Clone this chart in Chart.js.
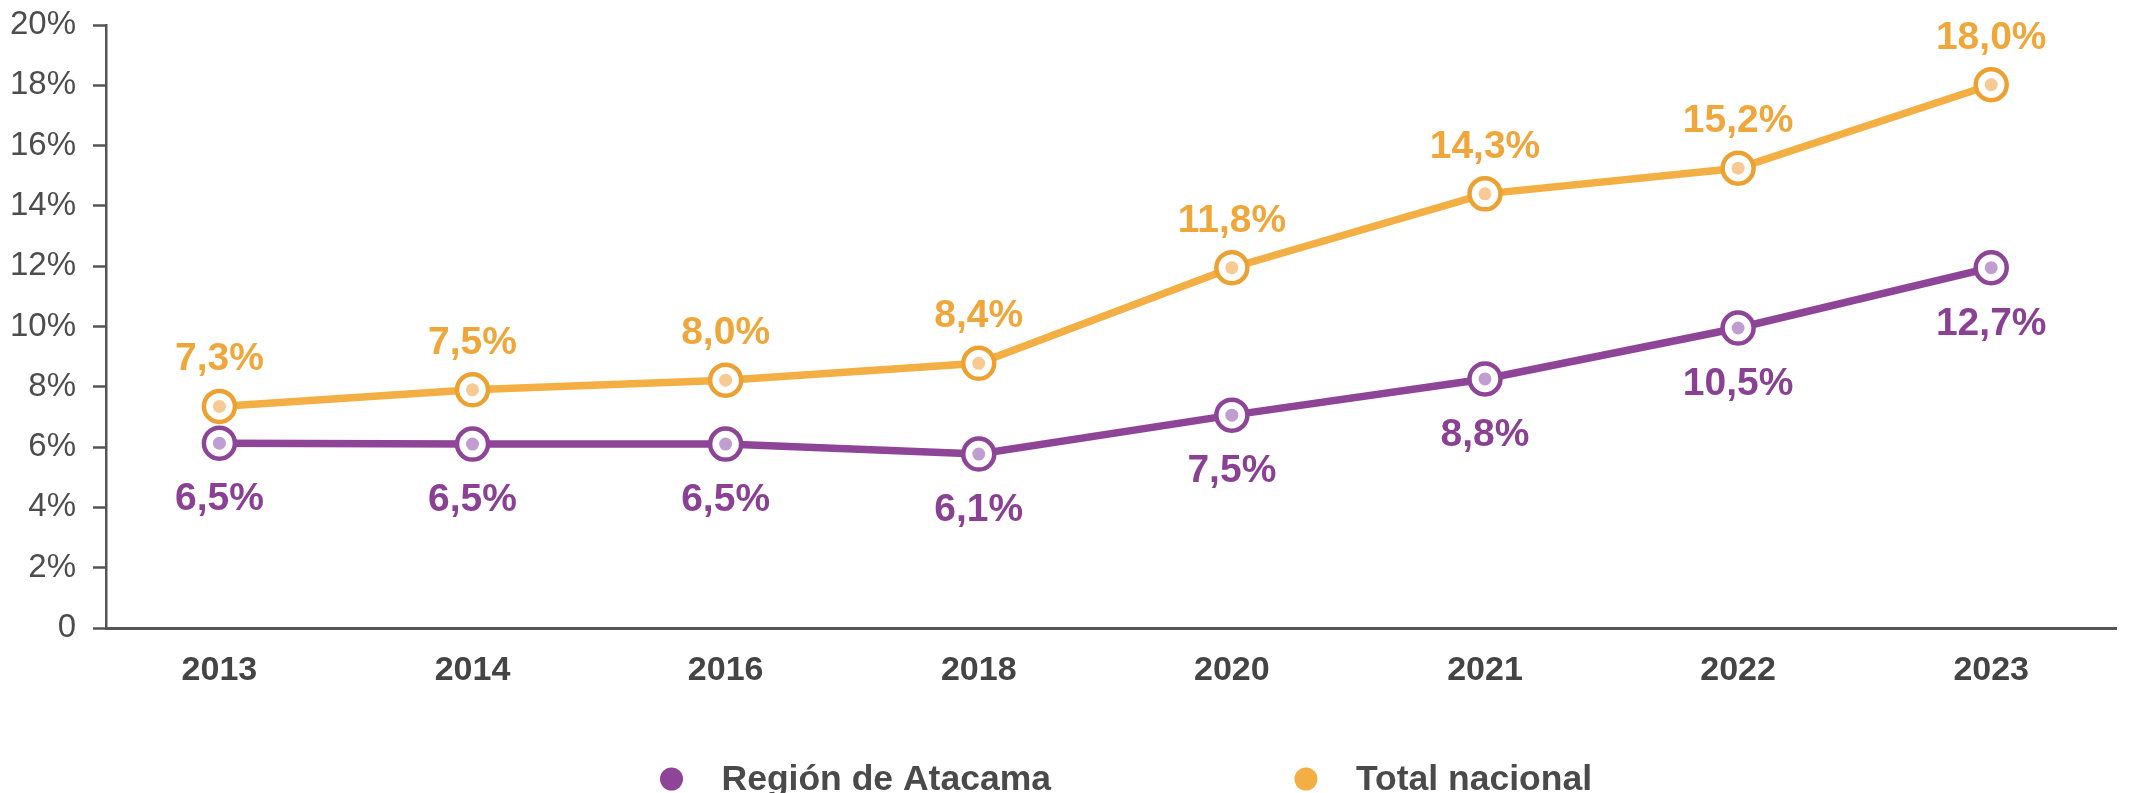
<!DOCTYPE html>
<html>
<head>
<meta charset="utf-8">
<script src="https://cdn.jsdelivr.net/npm/chart.js@4.4.1/dist/chart.umd.min.js"></script>
<style>
  html, body { margin: 0; padding: 0; background: #fff; }
</style>
</head>
<body>
<canvas id="chart" width="2136" height="793"></canvas>
<script>
// ─── Data ───
const years = ['2013', '2014', '2016', '2018', '2020', '2021', '2022', '2023'];
const atacama = [6.13, 6.1, 6.1, 5.77, 7.06, 8.26, 9.95, 11.95];
const nacional = [7.35, 7.9, 8.22, 8.78, 11.95, 14.4, 15.25, 18.02];
const atacamaLabels = ['6,5%', '6,5%', '6,5%', '6,1%', '7,5%', '8,8%', '10,5%', '12,7%'];
const nacionalLabels = ['7,3%', '7,5%', '8,0%', '8,4%', '11,8%', '14,3%', '15,2%', '18,0%'];
const yTicks = [0, 2, 4, 6, 8, 10, 12, 14, 16, 18, 20];
const seriesNames = ['Región de Atacama', 'Total nacional'];

// ─── Colours ───
const PURPLE = '#8E4598';
const PURPLE_TEXT = '#8A4193';
const PURPLE_DOT = '#C09FD0';
const ORANGE = '#F3AF43';
const ORANGE_TEXT = '#EFA63A';
const ORANGE_BORDER = '#EBA232';
const ORANGE_DOT = '#F8CA93';
const AXIS = '#555555';
const FONT = "'Liberation Sans', Arial, sans-serif";

const toPoints = arr => arr.map((v, i) => ({ x: i, y: v }));

/**
 * Value labels above / below each point.
 */
const valueLabels = {
    id: 'valueLabels',
    afterDatasetsDraw(chart) {
        const { ctx } = chart;
        chart.data.datasets.forEach((ds, i) => {
            if (!ds.valueLabels) return;
            const meta = chart.getDatasetMeta(i);
            ctx.save();
            ctx.font = `bold 39px ${FONT}`;
            ctx.fillStyle = ds.labelColor;
            ctx.textAlign = 'center';
            meta.data.forEach((pt, j) => {
                if (ds.labelSide === 'above') {
                    ctx.textBaseline = 'alphabetic';
                    ctx.fillText(ds.valueLabels[j], pt.x, pt.y - 36);
                } else {
                    ctx.textBaseline = 'top';
                    ctx.fillText(ds.valueLabels[j], pt.x, pt.y + 37);
                }
            });
            ctx.restore();
        });
    },
};

/**
 * Bottom legend with wide spacing between the two items.
 */
const bottomLegend = {
    id: 'bottomLegend',
    afterDraw(chart) {
        const { ctx, chartArea } = chart;
        const items = chart.data.datasets.filter(ds => ds.legendColor);
        ctx.save();
        ctx.font = `bold 35.5px ${FONT}`;
        const dotR = 11.5, textGap = 50, itemGap = 255;
        const widths = items.map(it => ctx.measureText(it.label).width);
        let total = dotR;
        widths.forEach((w, i) => { total += textGap + w + (i < widths.length - 1 ? itemGap : 0); });
        let x = (chartArea.left + chartArea.right) / 2 + 15 - total / 2 + dotR;
        const y = 779;
        ctx.textBaseline = 'middle';
        ctx.textAlign = 'left';
        items.forEach((it, i) => {
            ctx.beginPath();
            ctx.arc(x, y, dotR, 0, Math.PI * 2);
            ctx.fillStyle = it.legendColor;
            ctx.fill();
            ctx.fillStyle = '#4A4A4A';
            ctx.fillText(it.label, x + textGap, y + 1);
            x += textGap + widths[i] + itemGap;
        });
        ctx.restore();
    },
};

new Chart(document.getElementById('chart'), {
    type: 'line',
    data: {
        datasets: [
            {
                label: seriesNames[0],
                data: toPoints(atacama),
                borderColor: PURPLE,
                borderWidth: 7.5,
                pointRadius: 15.5,
                pointBorderWidth: 4.5,
                pointBorderColor: PURPLE,
                pointBackgroundColor: '#FFFFFF',
                tension: 0,
                order: 2,
                valueLabels: atacamaLabels,
                labelColor: PURPLE_TEXT,
                labelSide: 'below',
                legendColor: PURPLE,
            },
            {
                label: seriesNames[1],
                data: toPoints(nacional),
                borderColor: ORANGE,
                borderWidth: 7.5,
                pointRadius: 15.5,
                pointBorderWidth: 4.5,
                pointBorderColor: ORANGE_BORDER,
                pointBackgroundColor: '#FFFFFF',
                tension: 0,
                order: 2,
                valueLabels: nacionalLabels,
                labelColor: ORANGE_TEXT,
                labelSide: 'above',
                legendColor: ORANGE,
            },
            // inner dots of the markers
            {
                label: 'dot-a',
                data: toPoints(atacama),
                showLine: false,
                pointRadius: 6.5,
                pointBorderWidth: 0,
                pointBackgroundColor: PURPLE_DOT,
                order: 1,
            },
            {
                label: 'dot-n',
                data: toPoints(nacional),
                showLine: false,
                pointRadius: 6.5,
                pointBorderWidth: 0,
                pointBackgroundColor: ORANGE_DOT,
                order: 1,
            },
        ],
    },
    options: {
        responsive: false,
        animation: false,
        layout: { padding: { top: 25, left: 0, right: 0, bottom: 0 } },
        plugins: {
            legend: { display: false },
            tooltip: { enabled: false },
        },
        scales: {
            x: {
                type: 'linear',
                min: -0.448,
                max: 7.493,
                grid: { display: false, drawTicks: false },
                border: { display: true, color: AXIS, width: 3 },
                afterBuildTicks: s => { s.ticks = years.map((_, i) => ({ value: i })); },
                afterFit: s => { s.height = 165; },
                ticks: {
                    autoSkip: false,
                    maxRotation: 0,
                    padding: 22,
                    color: '#444444',
                    font: { family: FONT, size: 34, weight: 'bold' },
                    callback: v => years[v],
                },
            },
            y: {
                min: 0,
                max: 20,
                afterBuildTicks: s => { s.ticks = yTicks.map(v => ({ value: v })); },
                afterFit: s => {
                    s.width = 106;
                    s.paddingTop = 0;
                    s.paddingBottom = 0;
                },
                grid: {
                    drawOnChartArea: false,
                    drawTicks: true,
                    tickLength: 13,
                    tickWidth: 2.5,
                    tickColor: AXIS,
                },
                border: { display: true, color: AXIS, width: 2.5 },
                ticks: {
                    padding: 17,
                    color: '#4D4D4D',
                    font: { family: FONT, size: 33 },
                    callback: v => (v === 0 ? '0' : v + '%'),
                },
            },
        },
    },
    plugins: [valueLabels, bottomLegend],
});
</script>
</body>
</html>
